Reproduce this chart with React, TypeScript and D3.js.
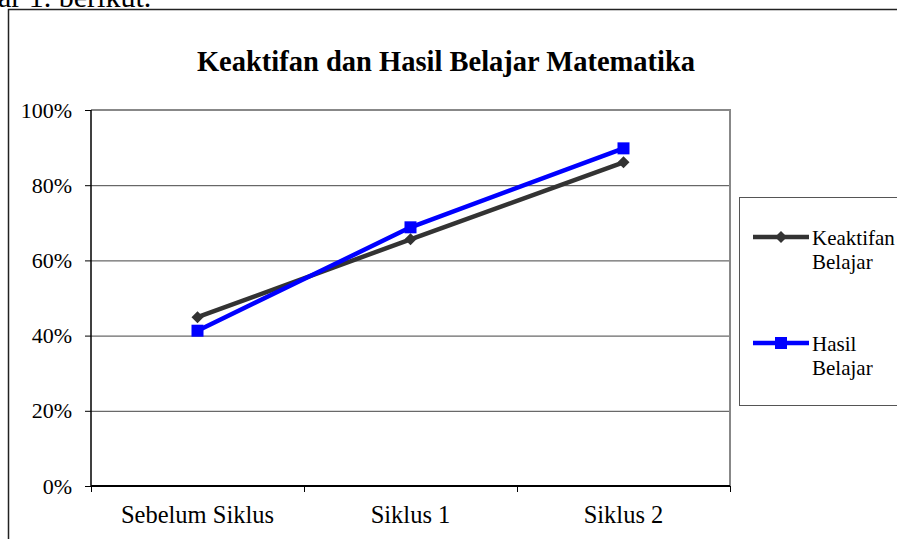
import React from 'react';
import * as d3 from 'd3';

const categories = ['Sebelum Siklus', 'Siklus 1', 'Siklus 2'];
const keaktifan = [0.449, 0.656, 0.861];
const hasil = [0.413, 0.688, 0.898];
const yTicks = [0, 0.2, 0.4, 0.6, 0.8, 1];

const series = [
  { name: ['Keaktifan', 'Belajar'], values: keaktifan, color: '#333333', marker: 'diamond' },
  { name: ['Hasil', 'Belajar'], values: hasil, color: '#0000ff', marker: 'square' },
];

const W = 897;
const H = 539;
const plot = { left: 91, top: 110, right: 730, bottom: 486 };
const font = '"Liberation Serif", "Times New Roman", serif';

export default function App() {
  const x = d3.scaleBand<string>().domain(categories).range([plot.left, plot.right]);
  const y = d3.scaleLinear().domain([0, 1]).range([plot.bottom, plot.top]);
  const fmt = d3.format('.0%');

  const line = (vals: number[]) =>
    d3.line<number>()
      .x((_, i) => x(categories[i])! + x.bandwidth() / 2)
      .y(d => y(d))(vals);

  const marker = (kind: string, cx: number, cy: number, color: string, key: string) =>
    kind === 'diamond' ? (
      <path key={key} d={`M${cx},${cy - 6}L${cx + 6},${cy}L${cx},${cy + 6}L${cx - 6},${cy}Z`} fill={color} />
    ) : (
      <rect key={key} x={cx - 6} y={cy - 6} width={12} height={12} fill={color} />
    );

  return (
    <svg width={W} height={H} style={{ position: 'absolute', left: 0, top: 0, background: '#fff' }} fontFamily={font}>
      {/* cut-off text above the figure */}
      <text x={-2} y={7} fontSize={30} fill="#000">ar 1. berikut.</text>

      {/* outer frame */}
      <path d={`M8.5,${H + 5}V9.5H${W + 5}`} fill="none" stroke="#222" strokeWidth={1.5} />

      <text x={446} y={71} textAnchor="middle" fontSize={28.5} fontWeight="bold">
        Keaktifan dan Hasil Belajar Matematika
      </text>

      {/* gridlines */}
      {yTicks.slice(1, -1).map(t => (
        <line key={t} x1={plot.left} x2={plot.right} y1={y(t) + 0.5} y2={y(t) + 0.5} stroke="#444" strokeWidth={1} />
      ))}
      {/* plot border top/right */}
      <path d={`M${plot.left},${plot.top}H${plot.right}V${plot.bottom}`} fill="none" stroke="#888" strokeWidth={2} />

      {/* y axis */}
      <line x1={plot.left} x2={plot.left} y1={plot.top} y2={plot.bottom} stroke="#000" strokeWidth={1.5} />
      {yTicks.map(t => (
        <g key={t}>
          <line x1={plot.left - 6} x2={plot.left} y1={y(t) + 0.5} y2={y(t) + 0.5} stroke="#000" strokeWidth={1} />
          <text x={72} y={y(t) + 7.5} textAnchor="end" fontSize={22}>{fmt(t)}</text>
        </g>
      ))}

      {/* x axis */}
      <line x1={plot.left} x2={plot.right} y1={plot.bottom} y2={plot.bottom} stroke="#000" strokeWidth={2} />
      {[...categories.map(c => x(c)!), plot.right].map((px, i) => (
        <line key={i} x1={px + 0.5} x2={px + 0.5} y1={plot.bottom} y2={plot.bottom + 6} stroke="#000" strokeWidth={1} />
      ))}
      {categories.map(c => (
        <text key={c} x={x(c)! + x.bandwidth() / 2} y={523} textAnchor="middle" fontSize={24.5}>{c}</text>
      ))}

      {/* series */}
      {series.map(s => (
        <g key={s.name.join(' ')}>
          <path d={line(s.values)!} fill="none" stroke={s.color} strokeWidth={4.5} strokeLinejoin="round" />
          {s.values.map((v, i) =>
            marker(s.marker, x(categories[i])! + x.bandwidth() / 2, y(v), s.color, `${i}`)
          )}
        </g>
      ))}

      {/* legend */}
      <rect x={739.5} y={197.5} width={170} height={208} fill="#fff" stroke="#555" strokeWidth={1} />
      {series.map((s, i) => {
        const ly = 237 + i * 106;
        return (
          <g key={i}>
            <line x1={753} x2={809} y1={ly} y2={ly} stroke={s.color} strokeWidth={4.5} />
            {marker(s.marker, 781, ly, s.color, 'm')}
            <text x={812} y={ly + 7.5} fontSize={21}>{s.name[0]}</text>
            <text x={812} y={ly + 31.5} fontSize={21}>{s.name[1]}</text>
          </g>
        );
      })}
    </svg>
  );
}
